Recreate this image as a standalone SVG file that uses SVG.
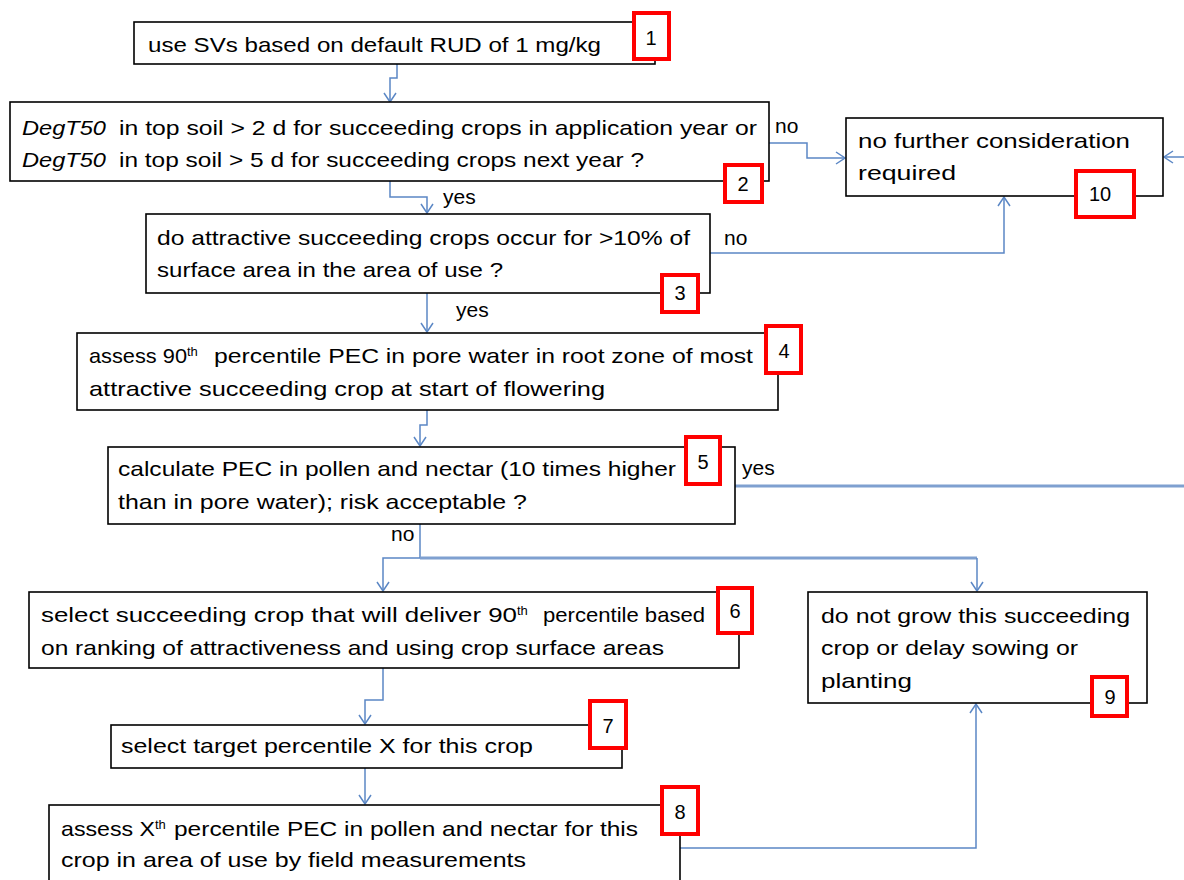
<svg xmlns="http://www.w3.org/2000/svg" width="1184" height="880" viewBox="0 0 1184 880">
<style>
.box{fill:#fff;stroke:#000;stroke-width:1.6}
.num{fill:#fff;stroke:#ff0000;stroke-width:4}
.t{font-family:"Liberation Sans",Arial,sans-serif;font-size:21px;fill:#000}
.n{font-family:"Liberation Sans",Arial,sans-serif;font-size:20px;fill:#000;text-anchor:middle}
.sup{font-family:"Liberation Sans",Arial,sans-serif;font-size:13px;fill:#000}
.c{fill:none;stroke:#5b87c5;stroke-width:1.5}
.cw{fill:none;stroke:#7fa0d0;stroke-width:3}
</style>
<defs>
<marker id="ah" viewBox="-1 -7 11 14" refX="9" refY="0" markerWidth="11" markerHeight="14" markerUnits="userSpaceOnUse" orient="auto">
<path d="M0,-6 L9,0 L0,6" fill="none" stroke="#5b87c5" stroke-width="1.5"/>
</marker>
</defs>
<g id="connectors">
<path class="c" d="M397,64 V78 H390 V102" marker-end="url(#ah)"/>
<path class="c" d="M769,143 H807 V158 H845" marker-end="url(#ah)"/>
<path class="c" d="M1184,157 H1164" marker-end="url(#ah)"/>
<path class="c" d="M390,181 V197 H427 V213" marker-end="url(#ah)"/>
<path class="c" d="M710,253 H1004 V197" marker-end="url(#ah)"/>
<path class="c" d="M427,293 V332" marker-end="url(#ah)"/>
<path class="c" d="M427,410 V425 H420 V446" marker-end="url(#ah)"/>
<path class="cw" d="M735,486 H1184"/>
<path class="c" d="M420,524 V558"/>
<path class="c" d="M420,558 H383 V591" marker-end="url(#ah)"/>
<path class="cw" d="M420,558 H977"/>
<path class="c" d="M977,558 V591" marker-end="url(#ah)"/>
<path class="c" d="M383,668 V700 H365 V724" marker-end="url(#ah)"/>
<path class="c" d="M365,768 V804" marker-end="url(#ah)"/>
<path class="c" d="M680,848 H976 V704" marker-end="url(#ah)"/>
<text class="t" x="775" y="133">no</text>
<text class="t" x="443" y="204">yes</text>
<text class="t" x="724" y="245">no</text>
<text class="t" x="456" y="317">yes</text>
<text class="t" x="742" y="475">yes</text>
<text class="t" x="391" y="541">no</text>
</g>
<g id="node1">
<rect class="box" x="134" y="22" width="521" height="42"/>
<text class="t" x="148" y="52" textLength="453" lengthAdjust="spacingAndGlyphs">use SVs based on default RUD of 1 mg/kg</text>
<rect class="num" x="634" y="13" width="35" height="46"/>
<text class="n" x="651" y="45">1</text>
</g>
<g id="node2">
<rect class="box" x="10" y="102" width="759" height="79"/>
<text class="t" x="22" y="135" font-style="italic" textLength="84" lengthAdjust="spacingAndGlyphs">DegT50</text>
<text class="t" x="119" y="135" textLength="638" lengthAdjust="spacingAndGlyphs">in top soil &gt; 2 d for succeeding crops in application year or</text>
<text class="t" x="22" y="167" font-style="italic" textLength="84" lengthAdjust="spacingAndGlyphs">DegT50</text>
<text class="t" x="119" y="167" textLength="525" lengthAdjust="spacingAndGlyphs">in top soil &gt; 5 d for succeeding crops next year ?</text>
<rect class="num" x="725" y="165" width="37" height="37"/>
<text class="n" x="743" y="191">2</text>
</g>
<g id="node10">
<rect class="box" x="846" y="118" width="317" height="78"/>
<text class="t" x="858" y="148" textLength="272" lengthAdjust="spacingAndGlyphs">no further consideration</text>
<text class="t" x="858" y="180" textLength="98" lengthAdjust="spacingAndGlyphs">required</text>
<rect class="num" x="1076" y="171" width="58" height="46"/>
<text class="n" x="1100" y="201">10</text>
</g>
<g id="node3">
<rect class="box" x="146" y="214" width="564" height="79"/>
<text class="t" x="157" y="245" textLength="533" lengthAdjust="spacingAndGlyphs">do attractive succeeding crops occur for &gt;10% of</text>
<text class="t" x="157" y="277" textLength="346" lengthAdjust="spacingAndGlyphs">surface area in the area of use ?</text>
<rect class="num" x="662" y="275" width="36" height="37"/>
<text class="n" x="680" y="300">3</text>
</g>
<g id="node4">
<rect class="box" x="77" y="333" width="701" height="77"/>
<text class="t" x="89" y="363" textLength="98" lengthAdjust="spacingAndGlyphs">assess 90</text>
<text class="sup" x="187" y="356">th</text>
<text class="t" x="214" y="363" textLength="539" lengthAdjust="spacingAndGlyphs">percentile PEC in pore water in root zone of most</text>
<text class="t" x="89" y="396" textLength="516" lengthAdjust="spacingAndGlyphs">attractive succeeding crop at start of flowering</text>
<rect class="num" x="766" y="326" width="35" height="47"/>
<text class="n" x="784" y="358">4</text>
</g>
<g id="node5">
<rect class="box" x="108" y="447" width="627" height="77"/>
<text class="t" x="118" y="476" textLength="558" lengthAdjust="spacingAndGlyphs">calculate PEC in pollen and nectar (10 times higher</text>
<text class="t" x="118" y="509" textLength="409" lengthAdjust="spacingAndGlyphs">than in pore water); risk acceptable ?</text>
<rect class="num" x="686" y="437" width="34" height="47"/>
<text class="n" x="703" y="469">5</text>
</g>
<g id="node6">
<rect class="box" x="29" y="592" width="710" height="76"/>
<text class="t" x="41" y="622" textLength="476" lengthAdjust="spacingAndGlyphs">select succeeding crop that will deliver 90</text>
<text class="sup" x="517" y="615">th</text>
<text class="t" x="543" y="622" textLength="162" lengthAdjust="spacingAndGlyphs">percentile based</text>
<text class="t" x="41" y="655" textLength="623" lengthAdjust="spacingAndGlyphs">on ranking of attractiveness and using crop surface areas</text>
<rect class="num" x="718" y="588" width="34" height="45"/>
<text class="n" x="735" y="618">6</text>
</g>
<g id="node9">
<rect class="box" x="808" y="592" width="339" height="111"/>
<text class="t" x="821" y="623" textLength="309" lengthAdjust="spacingAndGlyphs">do not grow this succeeding</text>
<text class="t" x="821" y="655" textLength="257" lengthAdjust="spacingAndGlyphs">crop or delay sowing or</text>
<text class="t" x="821" y="688" textLength="91" lengthAdjust="spacingAndGlyphs">planting</text>
<rect class="num" x="1092" y="677" width="35" height="39"/>
<text class="n" x="1110" y="704">9</text>
</g>
<g id="node7">
<rect class="box" x="111" y="725" width="511" height="43"/>
<text class="t" x="121" y="753" textLength="412" lengthAdjust="spacingAndGlyphs">select target percentile X for this crop</text>
<rect class="num" x="590" y="701" width="36" height="47"/>
<text class="n" x="608" y="733">7</text>
</g>
<g id="node8">
<rect class="box" x="49" y="805" width="631" height="90"/>
<text class="t" x="61" y="836" textLength="94" lengthAdjust="spacingAndGlyphs">assess X</text>
<text class="sup" x="155" y="829">th</text>
<text class="t" x="174" y="836" textLength="464" lengthAdjust="spacingAndGlyphs">percentile PEC in pollen and nectar for this</text>
<text class="t" x="61" y="867" textLength="465" lengthAdjust="spacingAndGlyphs">crop in area of use by field measurements</text>
<rect class="num" x="662" y="787" width="36" height="47"/>
<text class="n" x="680" y="819">8</text>
</g>
</svg>
